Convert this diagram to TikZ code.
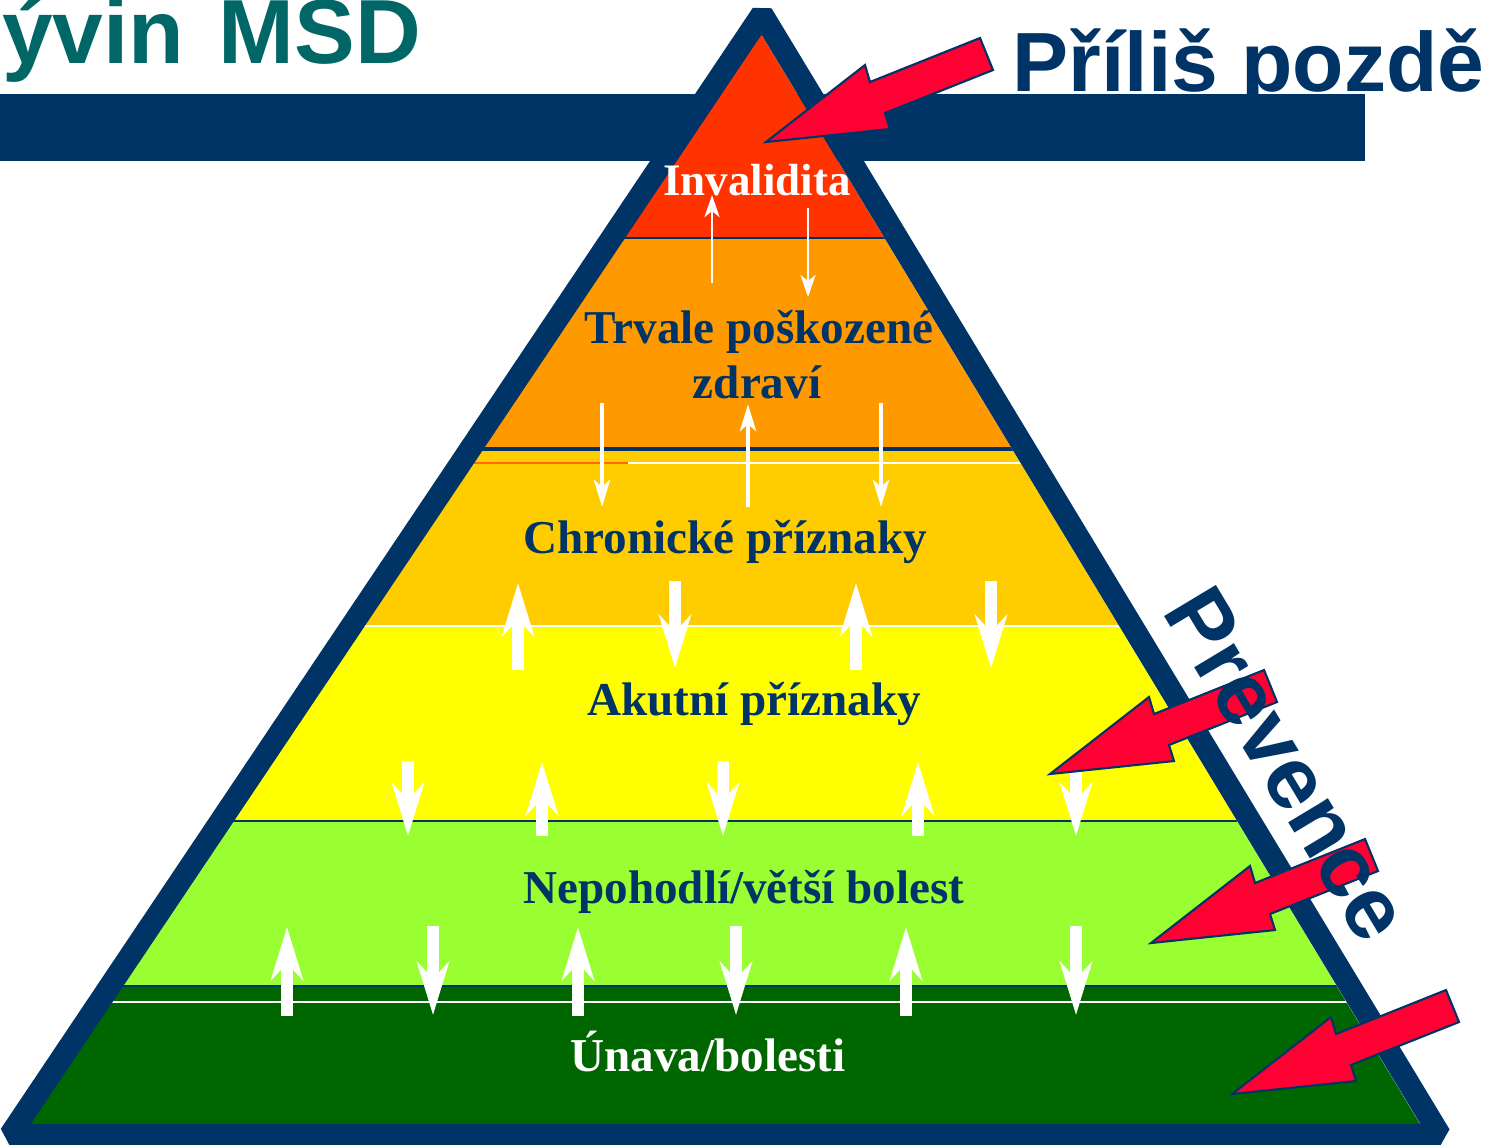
\documentclass[tikz,border=0pt]{standalone}
\usepackage{fontspec}
\setmainfont{Liberation Serif}
\setsansfont{Liberation Sans}
\usepackage{xcolor}
\usepackage{tikz}
\usetikzlibrary{arrows.meta,positioning}

\definecolor{barblue}{HTML}{003366}
\definecolor{titleteal}{HTML}{006666}
\definecolor{arrowred}{HTML}{FF0033}
\definecolor{lvlred}{HTML}{FF3300}
\definecolor{lvlorange}{HTML}{FF9900}
\definecolor{lvlgold}{HTML}{FFCC00}
\definecolor{lvlyellow}{HTML}{FFFF00}
\definecolor{lvllime}{HTML}{99FF33}
\definecolor{lvlgreen}{HTML}{006600}

\begin{document}
\begin{tikzpicture}[x=0.01cm, y=-0.01cm, every node/.style={inner sep=0pt},
    lvltext/.style={anchor=base, text=barblue, font=\fontsize{13.4}{15.6}\selectfont\bfseries},
    lvlwhite/.style={lvltext, text=white},
    smallarr/.style={white, line width=0.8pt, -{Stealth[length=0.22cm, width=0.15cm, inset=0.06cm]}},
    midarr/.style={white, line width=1.4pt, -{Stealth[length=0.27cm, width=0.16cm, inset=0.07cm]}},
    bigarr/.style={white, line width=3.2pt, -{Stealth[length=0.53cm, width=0.32cm, inset=0.17cm]}},
    redarr/.style={fill=arrowred, draw=barblue, line width=0.6pt, line join=miter},
    sep/.style={barblue, line width=0.7pt},
    thinwhite/.style={white, line width=0.5pt}]
    \useasboundingbox (0,0) rectangle (1495,1144);

    \node [anchor=base east, text=titleteal, font=\sffamily\bfseries\fontsize{25.9}{31}\selectfont] (title) at (422,63) {ývin\hspace{0.1em} MSD};
    \node [anchor=base west, text=barblue, font=\sffamily\bfseries\fontsize{23.9}{29}\selectfont] (late) at (1012,91) {Příliš pozdě};
    \fill [barblue] (0,94) rectangle (1365,161);

    \begin{scope}
        \clip (761,34) -- (30,1124) -- (1420,1124) -- cycle;
        \fill [lvlred] (0,0) rectangle (1495,238);
        \fill [lvlorange] (0,238) rectangle (1495,448);
        \fill [lvlgold] (0,448) rectangle (1495,626);
        \fill [lvlyellow] (0,626) rectangle (1495,821);
        \fill [lvllime] (0,821) rectangle (1495,986);
        \fill [lvlgreen] (0,986) rectangle (1495,1144);
        \draw [sep] (0,238) -- (1495,238);
        \draw [sep, line width=0.9pt] (0,449) -- (1495,449);
        \draw [lvlorange!70!red, line width=0.4pt] (0,463) -- (628,463);
        \draw [thinwhite] (628,463) -- (1495,463);
        \draw [thinwhite, line width=0.7pt] (0,626) -- (1495,626);
        \draw [sep] (0,821) -- (1495,821);
        \draw [sep] (0,986) -- (1495,986);
        \draw [thinwhite] (0,1002) -- (1495,1002);
    \end{scope}
    \draw [barblue, line width=6.3pt, line join=bevel] (762,14) -- (10,1135) -- (1440,1135) -- cycle;

    \node [lvlwhite, font=\fontsize{12.8}{15}\selectfont\bfseries] (invalid) at (757,195) {Invalidita};
    \node [lvltext] (trvale) at (759,343) {Trvale poškozené};
    \node [lvltext] (zdravi) at (757,398) {zdraví};
    \node [lvltext] (chronic) at (725,553) {Chronické příznaky};
    \node [lvltext] (acute) at (754,715) {Akutní příznaky};
    \node [lvltext] (discomfort) at (744,903) {Nepohodlí/větší bolest};
    \node [lvlwhite] (fatigue) at (708,1071) {Únava/bolesti};

    \draw [smallarr] (712,283) -- (712,195);
    \draw [smallarr] (808,208) -- (808,297);
    \foreach \x in {602,881} \draw [midarr] (\x,403) -- (\x,507);
    \draw [midarr] (748,507) -- (748,404);
    \foreach \x in {518,856} \draw [bigarr] (\x,670) -- (\x,583);
    \foreach \x in {675,991} \draw [bigarr] (\x,581) -- (\x,668);
    \foreach \x in {408,723,1076} \draw [bigarr] (\x,761) -- (\x,836);
    \foreach \x in {542,918} \draw [bigarr] (\x,836) -- (\x,762);
    \foreach \x in {287,578,906} \draw [bigarr] (\x,1016) -- (\x,927);
    \foreach \x in {433,736,1076} \draw [bigarr] (\x,926) -- (\x,1015);

    \foreach \tx/\ty in {766/142, 1050/774, 1151/943, 1232/1094}
        \filldraw [redarr] (\tx,\ty) -- ++(124,-13) -- ++(-5,-16) -- ++(108,-43) -- ++(-13,-32) -- ++(-110,44) -- ++(-5,-17) -- cycle;

    \node [rotate=-59, text=barblue, font=\sffamily\bfseries\fontsize{25}{30}\selectfont] (prevence) at (1288,764) {Prevence};
\end{tikzpicture}
\end{document}
